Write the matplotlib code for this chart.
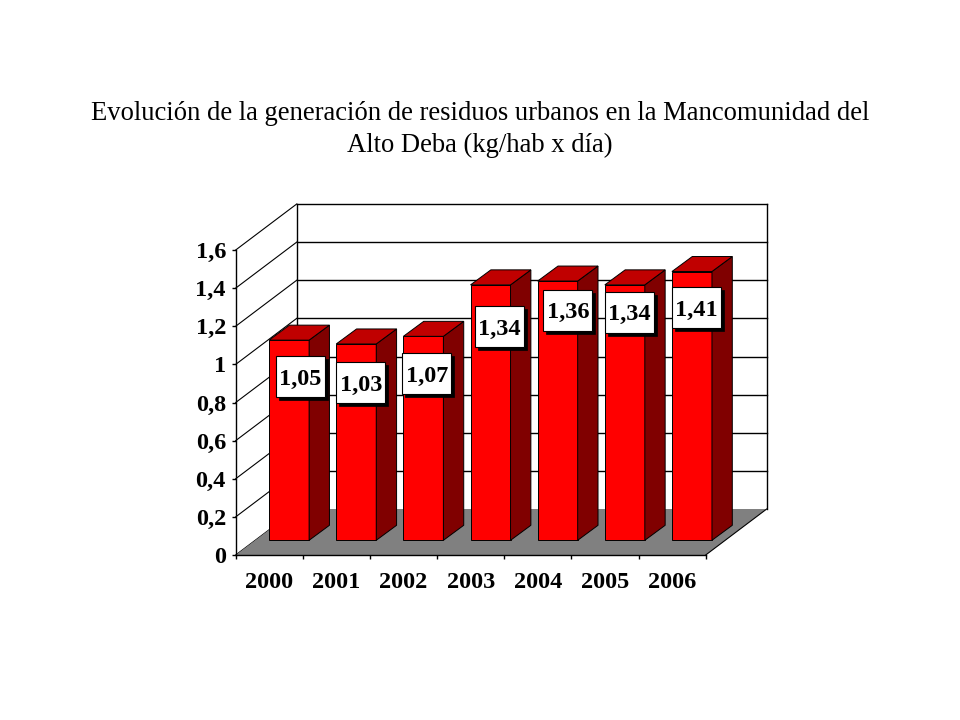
import matplotlib
matplotlib.use("Agg")
import matplotlib.pyplot as plt
from matplotlib.patches import Polygon, Rectangle

years = ["2000", "2001", "2002", "2003", "2004", "2005", "2006"]
values = [1.05, 1.03, 1.07, 1.34, 1.36, 1.34, 1.41]
labels = ["1,05", "1,03", "1,07", "1,34", "1,36", "1,34", "1,41"]
yticks = [0, 0.2, 0.4, 0.6, 0.8, 1, 1.2, 1.4, 1.6]
yticklabels = ["0", "0,2", "0,4", "0,6", "0,8", "1", "1,2", "1,4", "1,6"]
# label boxes were moved by hand in the original, offset from the bar top in px
label_dx = [10.7, 4.2, 3.0, 8.0, 9.8, 3.8, 3.7]
label_dy = [36.4, 39.0, 37.3, 41.6, 29.0, 27.4, 36.4]

plt.rcParams['font.family'] = ['Liberation Serif', 'DejaVu Serif']

fig = plt.figure(figsize=(9.6, 7.2), dpi=100)
ax = fig.add_axes([235.7/960, (720-555)/720, 470/960, 305/720])
ax.set_xlim(0, 7)
ax.set_ylim(0, 1.6)
for s in ax.spines.values():
    s.set_visible(False)
ax.patch.set_visible(False)

# px sizes in data units
px = 7/470
py = 1.6/305
depth_x = 61*px
depth_y = 46*py
bar_w = 40*px

# walls and floor
ax.add_patch(Polygon([(0, 0), (7, 0), (7+depth_x, depth_y), (depth_x, depth_y)],
                     closed=True, fc="#808080", ec="none", zorder=1, clip_on=False))
ax.plot([0, 7], [0, 0], color="k", lw=1, zorder=1.5, clip_on=False)
ax.plot([7, 7+depth_x], [0, depth_y], color="k", lw=0.8, zorder=1.5, clip_on=False)
ax.plot([0, 0], [0, 1.6], color="k", lw=1, zorder=1, clip_on=False)
ax.plot([depth_x, depth_x], [depth_y, 1.6+depth_y], color="k", lw=1, zorder=0.9, clip_on=False)
ax.plot([7+depth_x, 7+depth_x], [depth_y, 1.6+depth_y], color="k", lw=1, zorder=0.9, clip_on=False)
for t in yticks:
    ax.plot([0, depth_x], [t, t+depth_y], color="k", lw=0.8, zorder=0.9, clip_on=False)
    if t > 0:
        ax.plot([depth_x, 7+depth_x], [t+depth_y, t+depth_y], color="k", lw=1, zorder=0.9, clip_on=False)

# bars
for i, v in enumerate(values):
    x0 = i + 0.5 - bar_w/2 + depth_x/3 - 0.5*px
    x1 = x0 + bar_w
    y0 = 14.7*py
    ddx = depth_x/3
    ddy = 15*py
    ax.bar(x0 + bar_w/2, v, width=bar_w, bottom=y0, color="#FF0000", edgecolor="k",
           linewidth=0.7, zorder=3, clip_on=False)
    ax.add_patch(Polygon([(x1, y0), (x1+ddx, y0+ddy), (x1+ddx, y0+ddy+v), (x1, y0+v)],
                         closed=True, fc="#800000", ec="k", lw=0.7, zorder=3, clip_on=False))
    ax.add_patch(Polygon([(x0, y0+v), (x1, y0+v), (x1+ddx, y0+ddy+v), (x0+ddx, y0+ddy+v)],
                         closed=True, fc="#C00000", ec="k", lw=0.7, zorder=3, clip_on=False))

# data labels with shadow
box_w = 49*px
box_h = 41*py
for i, v in enumerate(values):
    cx = i + 0.5 + depth_x/3 + label_dx[i]*px
    cy = 14.7*py + v - label_dy[i]*py
    ax.add_patch(Rectangle((cx-box_w/2+3*px, cy-box_h/2-3*py), box_w, box_h,
                           fc="k", ec="k", lw=0.5, zorder=4, clip_on=False))
    ax.add_patch(Rectangle((cx-box_w/2, cy-box_h/2), box_w, box_h,
                           fc="w", ec="k", lw=0.8, zorder=5, clip_on=False))
    ax.text(cx, cy, labels[i], ha="center", va="center_baseline", fontsize=17.5,
            fontweight="bold", color="k", zorder=6)

# axes
ax.set_yticks(yticks)
ax.set_yticklabels(yticklabels, fontsize=17.5, fontweight="bold")
ax.tick_params(axis="y", length=3, width=1, pad=4)
ax.set_xticks(range(8))
ax.set_xticklabels([])
ax.tick_params(axis="x", length=3, width=1)
ax.set_xticks([i+0.5 for i in range(7)], minor=True)
ax.set_xticklabels(years, minor=True, fontsize=17.5, fontweight="bold")
ax.tick_params(axis="x", which="minor", length=0, pad=12)

fig.text(0.5, 1-129.5/720, "Evolución de la generación de residuos urbanos en la Mancomunidad del\nAlto Deba (kg/hab x día)",
         ha="center", va="center", fontsize=19.2, linespacing=1.4, color="k")

plt.savefig("out.png", dpi=100)
